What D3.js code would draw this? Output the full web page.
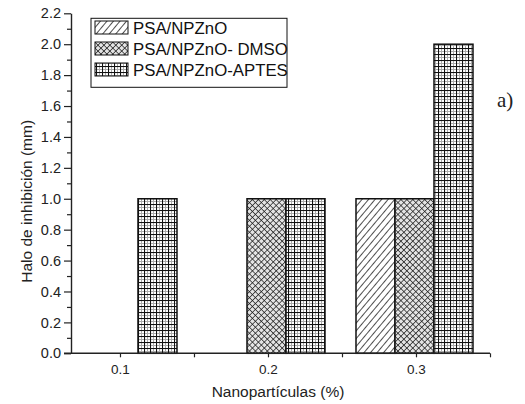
<!DOCTYPE html>
<html>
<head>
<meta charset="utf-8">
<script src="https://cdn.jsdelivr.net/npm/d3@7"></script>
<style>
  html, body { margin: 0; padding: 0; background: #fff; }
  svg { display: block; font-family: "Liberation Sans", Arial, sans-serif; }
</style>
</head>
<body>
<svg id="chart" width="525" height="404"></svg>
<script>
// Nanoparticle loading (%) on the x axis
const categories = [0.1, 0.2, 0.3];
// Inhibition halo (mm) for each formulation
const seriesNames = ["PSA/NPZnO", "PSA/NPZnO- DMSO", "PSA/NPZnO-APTES"];
const valuesPSA = [0, 0, 1];
const valuesDMSO = [0, 1, 1];
const valuesAPTES = [1, 1, 2];
const yTicks = [0, 0.2, 0.4, 0.6, 0.8, 1.0, 1.2, 1.4, 1.6, 1.8, 2.0, 2.2];
const yMinorTicks = [0.1, 0.3, 0.5, 0.7, 0.9, 1.1, 1.3, 1.5, 1.7, 1.9, 2.1];
const xMinorTicks = [0.15, 0.25, 0.35];

const seriesValues = [valuesPSA, valuesDMSO, valuesAPTES];
const patternIds = ["pat-diag", "pat-cross", "pat-grid"];

const svg = d3.select("#chart");
const plotLeft = 71, plotRight = 490, plotTop = 13.3, plotBottom = 353.3;

const x = d3.scaleLinear().domain([0.0669, 0.35]).range([plotLeft, plotRight]);
const y = d3.scaleLinear().domain([0, 2.2]).range([plotBottom, plotTop]);
// Offset of each series inside a group, in pixels
const inner = d3.scaleBand().domain(seriesNames).range([-60, 57]).padding(0);

// Fill patterns
const defs = svg.append("defs");
const pDiag = defs.append("pattern").attr("id", "pat-diag")
  .attr("patternUnits", "userSpaceOnUse").attr("width", 5).attr("height", 5)
  .attr("patternTransform", "rotate(40)");
pDiag.append("rect").attr("width", 5).attr("height", 5).attr("fill", "#fff");
pDiag.append("line").attr("x1", 0).attr("y1", 0).attr("x2", 0).attr("y2", 5)
  .attr("stroke", "#222").attr("stroke-width", 1.6);

const pCross = defs.append("pattern").attr("id", "pat-cross")
  .attr("patternUnits", "userSpaceOnUse").attr("width", 4.2).attr("height", 4.2)
  .attr("patternTransform", "rotate(45)");
pCross.append("rect").attr("width", 4.2).attr("height", 4.2).attr("fill", "#e4e4e4");
pCross.append("line").attr("x1", 0).attr("y1", 0).attr("x2", 0).attr("y2", 4.2)
  .attr("stroke", "#1a1a1a").attr("stroke-width", 1.4);
pCross.append("line").attr("x1", 0).attr("y1", 0).attr("x2", 4.2).attr("y2", 0)
  .attr("stroke", "#1a1a1a").attr("stroke-width", 1.4);

const pGrid = defs.append("pattern").attr("id", "pat-grid")
  .attr("patternUnits", "userSpaceOnUse").attr("width", 6).attr("height", 6);
pGrid.append("rect").attr("width", 6).attr("height", 6).attr("fill", "#fff");
pGrid.append("line").attr("x1", 3.5).attr("y1", 0).attr("x2", 3.5).attr("y2", 6)
  .attr("stroke", "#aaa").attr("stroke-width", 1);
pGrid.append("line").attr("x1", 0).attr("y1", 3.5).attr("x2", 6).attr("y2", 3.5)
  .attr("stroke", "#aaa").attr("stroke-width", 1);
pGrid.append("line").attr("x1", 0.5).attr("y1", 0).attr("x2", 0.5).attr("y2", 6)
  .attr("stroke", "#111").attr("stroke-width", 1.1);
pGrid.append("line").attr("x1", 0).attr("y1", 0.5).attr("x2", 6).attr("y2", 0.5)
  .attr("stroke", "#111").attr("stroke-width", 1.1);

// Bars
const bars = [];
seriesNames.forEach((name, s) => {
  categories.forEach((c, i) => {
    const v = seriesValues[s][i];
    if (v > 0) bars.push({ name, s, c, v });
  });
});
svg.append("g").selectAll("rect").data(bars).join("rect")
  .attr("x", d => x(d.c) + inner(d.name))
  .attr("width", inner.bandwidth())
  .attr("y", d => y(d.v))
  .attr("height", d => y(0) - y(d.v))
  .attr("fill", d => `url(#${patternIds[d.s]})`)
  .attr("stroke", "#111").attr("stroke-width", 1.5);

// Axes
const axisColor = "#222";
const gy = svg.append("g").attr("transform", `translate(${plotLeft},0)`)
  .call(d3.axisLeft(y).tickValues(yTicks).tickFormat(d3.format(".1f")).tickSize(7).tickPadding(3).tickSizeOuter(0));
svg.append("g").attr("transform", `translate(${plotLeft},0)`)
  .call(d3.axisLeft(y).tickValues(yMinorTicks).tickFormat("").tickSize(4).tickSizeOuter(0))
  .select(".domain").remove();

const gx = svg.append("g").attr("transform", `translate(0,${plotBottom})`)
  .call(d3.axisBottom(x).tickValues(categories).tickFormat(d3.format(".1f")).tickSize(4).tickPadding(7).tickSizeOuter(0));
svg.append("g").attr("transform", `translate(0,${plotBottom})`)
  .call(d3.axisBottom(x).tickValues(xMinorTicks).tickFormat("").tickSize(4).tickSizeOuter(0))
  .select(".domain").remove();

svg.selectAll(".domain").attr("stroke", axisColor).attr("stroke-width", 1.4);
svg.selectAll(".tick line").attr("stroke", axisColor).attr("stroke-width", 1.2);
gy.selectAll(".tick text").attr("font-size", 14.5).attr("fill", "#222")
  .attr("font-family", "Liberation Sans, Arial, sans-serif");
gx.selectAll(".tick text").attr("font-size", 13.5).attr("fill", "#222")
  .attr("font-family", "Liberation Sans, Arial, sans-serif");
// extend the bottom axis line past the y spine
gx.select(".domain").attr("d", `M${plotLeft - 7},0H${plotRight}`);

// Axis titles
svg.append("text")
  .attr("x", (x(0.1) + x(0.3)) / 2 + 10).attr("y", 397)
  .attr("text-anchor", "middle").attr("font-size", 15.5).attr("fill", "#222")
  .text("Nanopartículas (%)");
svg.append("text")
  .attr("transform", `translate(32,${(y(0) + y(2.2)) / 2 + 18}) rotate(-90)`)
  .attr("text-anchor", "middle").attr("font-size", 15.5).attr("fill", "#222")
  .text("Halo de inhibición (mm)");

// Legend
const legend = svg.append("g");
legend.append("rect").attr("x", 91).attr("y", 18.3).attr("width", 196).attr("height", 69)
  .attr("fill", "#fff").attr("stroke", "#111").attr("stroke-width", 1);
seriesNames.forEach((name, s) => {
  const cy = 27.5 + s * 21;
  legend.append("rect").attr("x", 95).attr("y", cy - 6.5).attr("width", 33).attr("height", 13)
    .attr("fill", `url(#${patternIds[s]})`).attr("stroke", "#111").attr("stroke-width", 1);
  legend.append("text").attr("x", 133).attr("y", cy + 6)
    .attr("font-size", 16.8).attr("fill", "#111").text(name);
});

// Panel label
svg.append("text").attr("x", 497).attr("y", 107)
  .attr("font-family", "Liberation Serif, 'Times New Roman', serif")
  .attr("font-size", 21).attr("fill", "#222").text("a)");
</script>
</body>
</html>
